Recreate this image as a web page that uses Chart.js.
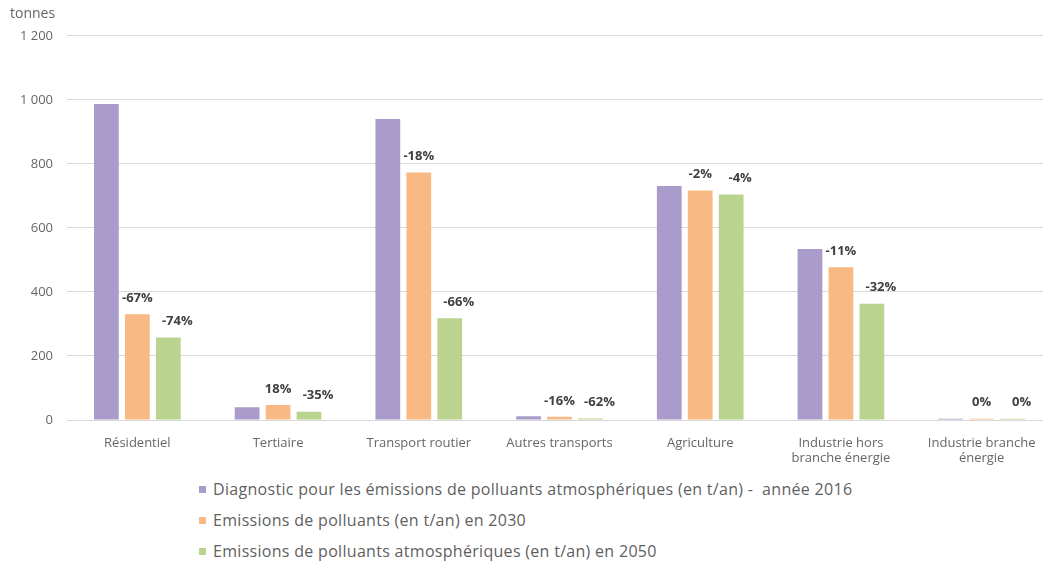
<!DOCTYPE html>
<html lang="fr">
<head>
<meta charset="utf-8">
<title>Emissions de polluants atmosphériques</title>
<script src="https://cdn.jsdelivr.net/npm/chart.js@4.4.1/dist/chart.umd.min.js"></script>
<style>
  html, body { margin: 0; padding: 0; background: #fff; overflow: hidden; }
  #wrap { position: relative; width: 1052px; height: 470px; }
  #legend { position: absolute; left: 199px; top: 478px; font-family: "Open Sans", sans-serif; font-size: 16px; letter-spacing: 0.3px; color: #5f5f5f; }
  #legend div { height: 31px; line-height: 22px; white-space: pre; }
  #legend span { display: inline-block; width: 7px; height: 7px; margin-right: 7px; vertical-align: 2px; }
</style>
</head>
<body>
<div id="wrap"><canvas id="chart"></canvas></div>
<div id="legend"></div>
<script>
// categories and series (tonnes)
const categories = ['Résidentiel', 'Tertiaire', 'Transport routier', 'Autres transports', 'Agriculture',
  ['Industrie hors', 'branche énergie'], ['Industrie branche', 'énergie']];
const diag2016 = [987, 40, 940, 12, 731, 534, 4];
const emis2030 = [330, 47, 773, 10, 717, 477, 4];
const emis2050 = [258, 26, 318, 5, 704, 363, 4];
// percentage labels shown above the 2030 / 2050 bars
const pct2030 = ['-67%', '18%', '-18%', '-16%', '-2%', '-11%', '0%'];
const pct2050 = ['-74%', '-35%', '-66%', '-62%', '-4%', '-32%', '0%'];
const yTicks = [0, 200, 400, 600, 800, 1000, 1200];

const seriesNames = [
  'Diagnostic pour les émissions de polluants atmosphériques (en t/an) -  année 2016',
  'Emissions de polluants (en t/an) en 2030',
  'Emissions de polluants atmosphériques (en t/an) en 2050'
];
const colors = ['#a99bca', '#f9b984', '#bad38e'];

const txt = '#666666';
const font = '"Open Sans", sans-serif';

// draws the % labels above the bars
const pctLabels = {
  id: 'pctLabels',
  afterDatasetsDraw(chart) {
    const ctx = chart.ctx;
    ctx.save();
    ctx.font = 'bold 13px ' + font;
    ctx.fillStyle = '#404040';
    ctx.textAlign = 'center';
    ctx.textBaseline = 'middle';
    [[1, pct2030, 0], [2, pct2050, 9]].forEach(([di, labels, dx]) => {
      chart.getDatasetMeta(di).data.forEach((bar, i) => {
        ctx.fillText(labels[i], bar.x + dx, bar.y - 16);
      });
    });
    ctx.restore();
  }
};

const chart = new Chart(document.getElementById('chart'), {
  type: 'bar',
  data: {
    labels: categories,
    datasets: [diag2016, emis2030, emis2050].map((d, i) => ({
      label: seriesNames[i],
      data: d,
      backgroundColor: colors[i],
      borderWidth: 0,
      barPercentage: 0.8,
      categoryPercentage: 0.66
    }))
  },
  options: {
    responsive: true,
    maintainAspectRatio: false,
    animation: false,
    layout: { padding: { left: 10, right: 0, top: 0, bottom: 0 } },
    plugins: {
      legend: { display: false },
      tooltip: { enabled: false },
      title: {
        display: true,
        text: 'tonnes',
        align: 'start',
        color: txt,
        font: { family: font, size: 14, weight: 'normal' },
        padding: { top: 6, bottom: 13 }
      }
    },
    scales: {
      x: {
        grid: { display: false },
        border: { display: false },
        ticks: { color: txt, font: { family: font, size: 13 }, padding: 7, maxRotation: 0, autoSkip: false },
        afterFit(scale) { scale.height = 50; }
      },
      y: {
        min: 0,
        max: 1200,
        afterBuildTicks(scale) { scale.ticks = yTicks.map(v => ({ value: v })); },
        grid: { color: '#d9d9d9', drawTicks: false },
        border: { display: false },
        ticks: {
          color: txt,
          font: { family: font, size: 13 },
          padding: 14,
          callback: v => String(v).replace(/\B(?=(\d{3})+(?!\d))/g, ' ')
        },
        afterFit(scale) { scale.width = 57; }
      }
    }
  },
  plugins: [pctLabels]
});

// vertical legend under the chart
document.getElementById('legend').innerHTML = chart.data.datasets.map(ds =>
  `<div><span style="background:${ds.backgroundColor}"></span>${ds.label}</div>`).join('');
</script>
</body>
</html>
